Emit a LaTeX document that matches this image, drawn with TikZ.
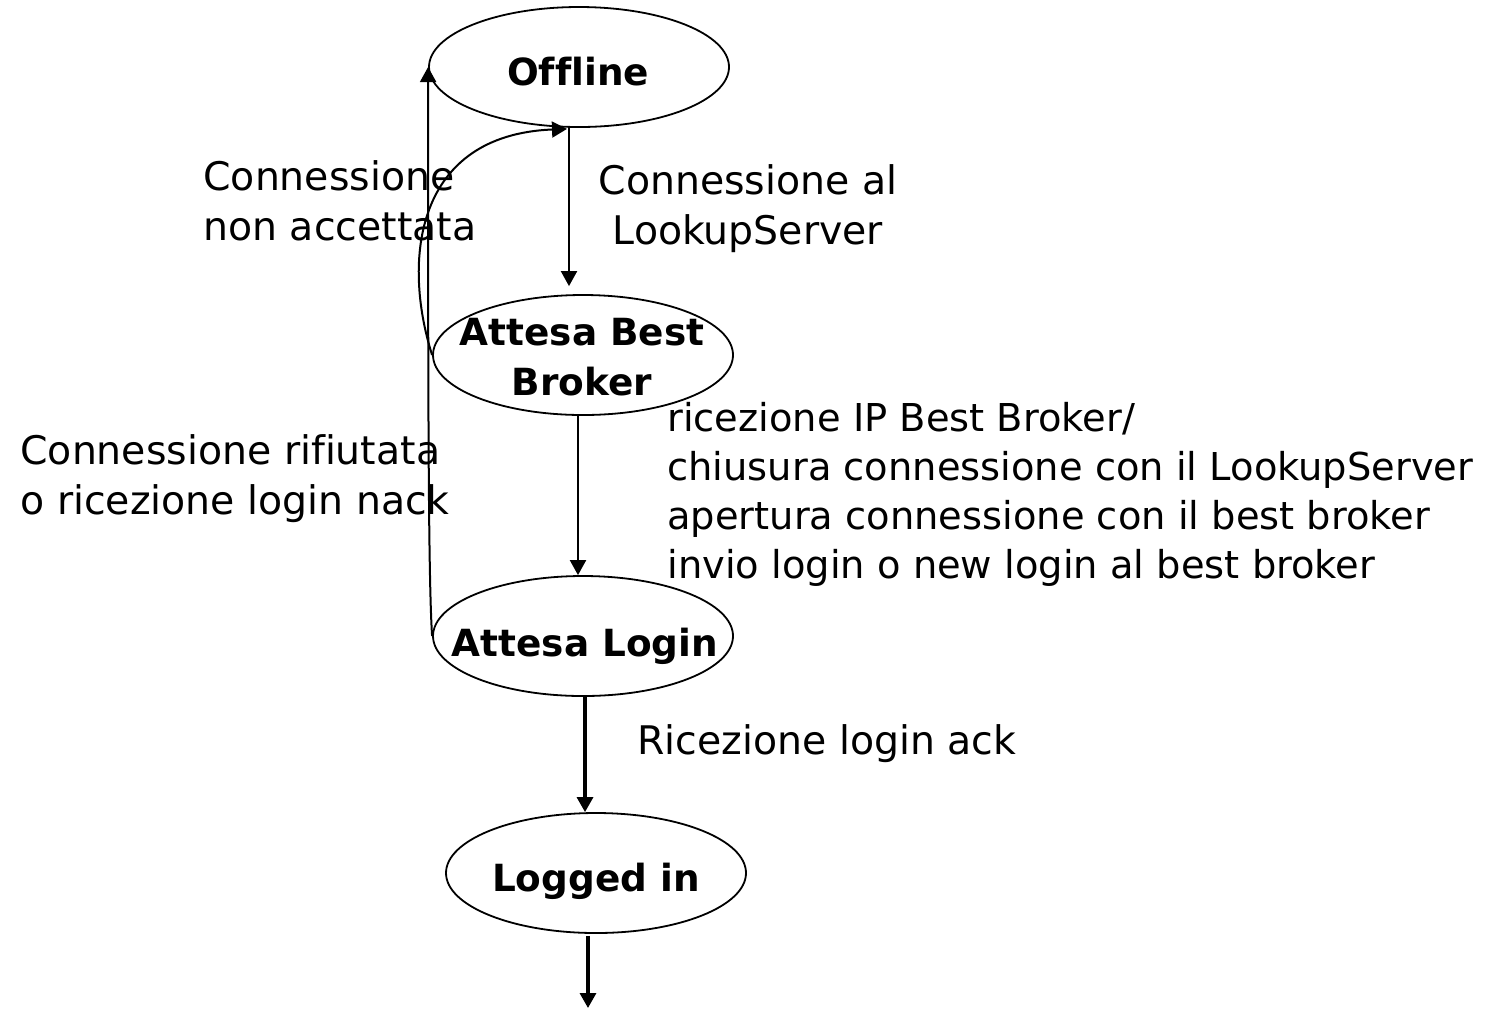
\documentclass[tikz,border=0pt]{standalone}
\usepackage{fontspec}
\setmainfont[Ligatures=NoCommon]{DejaVu Sans}
\usetikzlibrary{arrows.meta,shapes.geometric,calc}
\begin{document}
\begin{tikzpicture}[x=0.5pt,y=-0.5pt,
  state/.style={ellipse,draw,line width=0.9pt,minimum width=150pt,minimum height=60pt,inner sep=0pt},
  stlabel/.style={font=\fontsize{18.7}{25}\selectfont\bfseries,inner sep=0pt,align=center},
  lbl/.style={font=\fontsize{19.7}{25}\selectfont,inner sep=0pt},
  rlbl/.style={font=\fontsize{19.2}{24.5}\selectfont,inner sep=0pt},
  arr/.style={line width=1pt,-{Triangle[length=7.5pt,width=8pt]}},
  tarr/.style={line width=1.6pt,-{Triangle[length=7.5pt,width=8pt]}}]
\path[fill=white,use as bounding box] (0,0) rectangle (1489,1009);

\node[state] (off) at (579,67) {};
\node[state] (bb) at (583,355) {};
\node[state] (lg) at (583,636) {};
\node[state] (li) at (596,873) {};

\node[stlabel,anchor=base] (offt) at (578,85) {Offline};
\node[stlabel] (bbt) at (582,357) {Attesa Best\\Broker};
\node[stlabel,anchor=base] (lgt) at (585,656) {Attesa Login};
\node[stlabel,anchor=base] (lit) at (596,891) {Logged in};

\draw[arr] ([xshift=-5pt]off.south) -- ([xshift=-7pt,yshift=4pt]bb.north);
\draw[arr] ([xshift=-2.5pt]bb.south) -- ([xshift=-2.5pt]lg.north);
\draw[tarr] ([xshift=1pt]lg.south) -- ([xshift=-5.5pt]li.north);
\coordinate (end) at (588,1008);
\draw[tarr] ([xshift=-4pt,yshift=-1pt]li.south) -- (end);

\draw[arr] (lg.west) .. controls +(-4,-60) and +(0,300) .. (off.west);
\draw[arr] (bb.west) .. controls (402,260) and (415,135) .. ([xshift=-6pt,yshift=-0.5pt]off.south);

\node[lbl,anchor=north west,align=left] (t1) at (203,160) {Connessione\\non accettata};
\node[lbl,anchor=north,align=center] (t2) at (748,164) {Connessione al\\LookupServer};
\node[rlbl,anchor=north west,align=left] (t3) at (667,402) {ricezione IP Best Broker/\\chiusura connessione con il LookupServer\\apertura connessione con il best broker\\invio login o new login al best broker};
\node[lbl,anchor=north west,align=left] (t4) at (20,434) {Connessione rifiutata\\o ricezione login nack};
\node[lbl,anchor=base west] (t5) at (637,754) {Ricezione login ack};
\end{tikzpicture}
\end{document}
